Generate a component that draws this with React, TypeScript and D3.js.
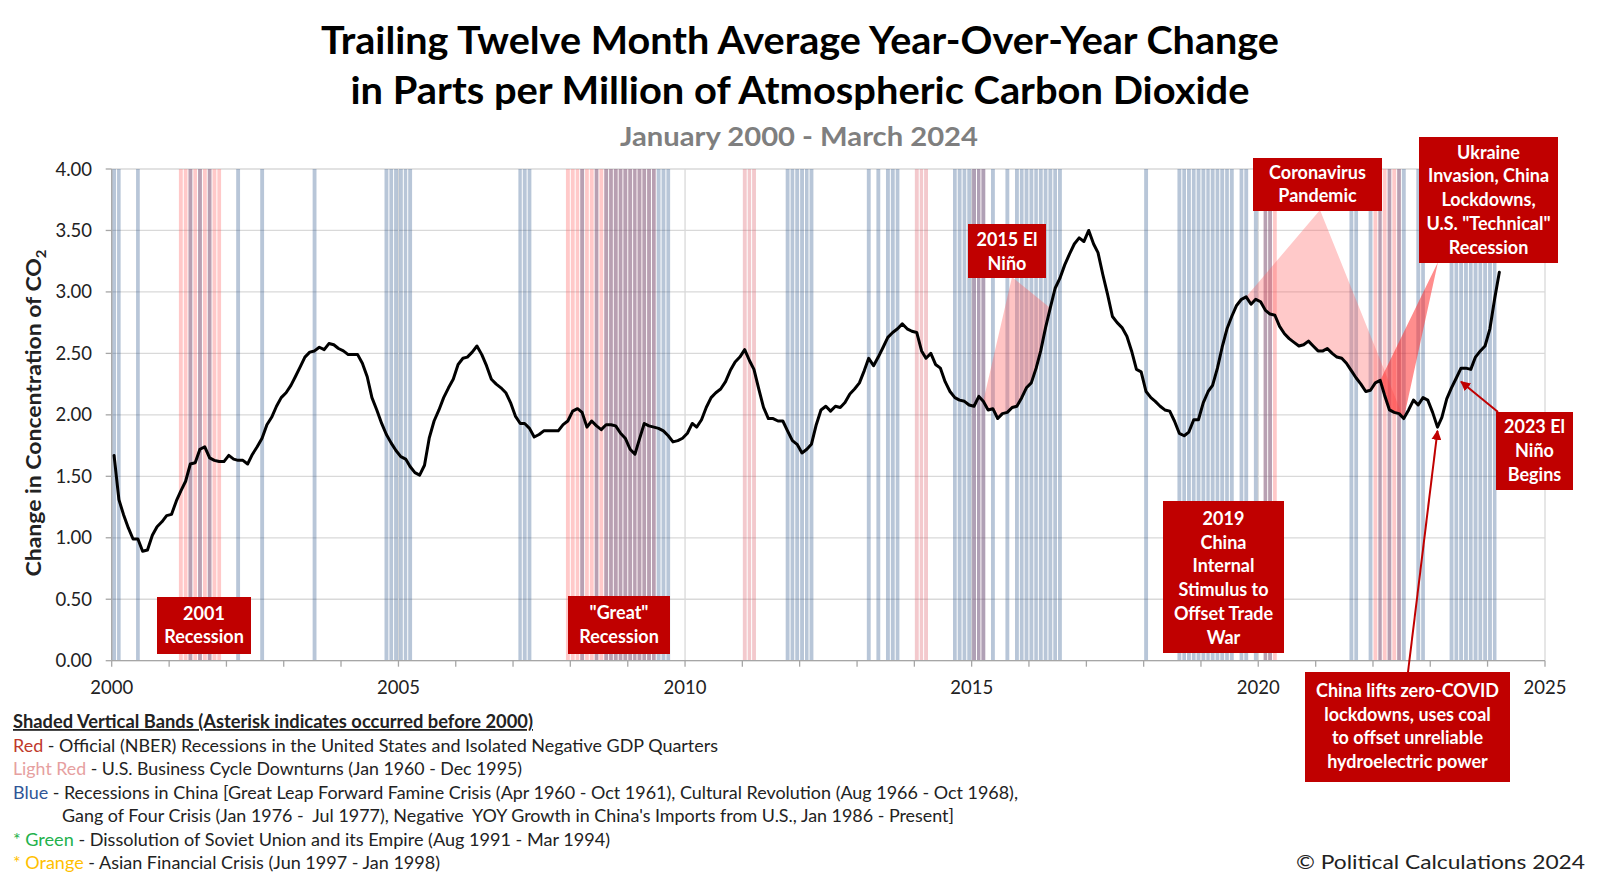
import React from "react";
import * as d3 from "d3";

// Trailing twelve month average YoY change in CO2 ppm, monthly Jan 2000 - Mar 2024
const co2Change: number[] = [
  1.67, 1.31, 1.19, 1.08, 0.99, 0.99, 0.89, 0.9, 1.02, 1.09, 1.13, 1.18, // 2000
  1.19, 1.3, 1.38, 1.46, 1.6, 1.61, 1.72, 1.74, 1.65, 1.63, 1.62, 1.62, // 2001
  1.67, 1.64, 1.63, 1.63, 1.6, 1.68, 1.74, 1.81, 1.92, 1.98, 2.07, 2.14, // 2002
  2.18, 2.24, 2.31, 2.39, 2.47, 2.51, 2.52, 2.55, 2.53, 2.58, 2.57, 2.54, // 2003
  2.52, 2.49, 2.49, 2.49, 2.42, 2.31, 2.14, 2.04, 1.93, 1.84, 1.77, 1.71, // 2004
  1.66, 1.64, 1.58, 1.53, 1.51, 1.59, 1.81, 1.95, 2.04, 2.14, 2.22, 2.29, // 2005
  2.41, 2.46, 2.47, 2.51, 2.56, 2.49, 2.4, 2.29, 2.25, 2.22, 2.18, 2.1, // 2006
  1.99, 1.93, 1.93, 1.89, 1.82, 1.84, 1.87, 1.87, 1.87, 1.87, 1.92, 1.95, // 2007
  2.03, 2.05, 2.02, 1.9, 1.95, 1.91, 1.88, 1.92, 1.92, 1.91, 1.85, 1.81, // 2008
  1.72, 1.68, 1.8, 1.93, 1.91, 1.9, 1.89, 1.87, 1.83, 1.78, 1.79, 1.81, // 2009
  1.85, 1.93, 1.9, 1.96, 2.06, 2.14, 2.18, 2.21, 2.27, 2.36, 2.43, 2.47, // 2010
  2.53, 2.44, 2.37, 2.21, 2.06, 1.97, 1.97, 1.95, 1.95, 1.87, 1.79, 1.76, // 2011
  1.69, 1.72, 1.76, 1.92, 2.04, 2.07, 2.03, 2.07, 2.06, 2.1, 2.17, 2.21, // 2012
  2.26, 2.36, 2.46, 2.4, 2.47, 2.55, 2.63, 2.67, 2.7, 2.74, 2.7, 2.68, // 2013
  2.67, 2.52, 2.46, 2.5, 2.41, 2.38, 2.27, 2.19, 2.14, 2.12, 2.11, 2.08, // 2014
  2.07, 2.15, 2.11, 2.04, 2.05, 1.97, 2.01, 2.02, 2.06, 2.07, 2.14, 2.22, // 2015
  2.26, 2.38, 2.52, 2.71, 2.87, 3.03, 3.11, 3.22, 3.31, 3.39, 3.44, 3.41, // 2016
  3.5, 3.39, 3.32, 3.14, 2.98, 2.8, 2.75, 2.71, 2.64, 2.52, 2.37, 2.35, // 2017
  2.19, 2.14, 2.11, 2.07, 2.04, 2.03, 1.95, 1.85, 1.83, 1.86, 1.96, 1.96, // 2018
  2.1, 2.19, 2.24, 2.38, 2.55, 2.7, 2.8, 2.89, 2.94, 2.96, 2.9, 2.94, // 2019
  2.92, 2.85, 2.82, 2.81, 2.72, 2.66, 2.62, 2.59, 2.56, 2.57, 2.6, 2.56, // 2020
  2.52, 2.52, 2.54, 2.5, 2.47, 2.46, 2.42, 2.36, 2.3, 2.25, 2.19, 2.2, // 2021
  2.26, 2.28, 2.16, 2.04, 2.02, 2.01, 1.97, 2.04, 2.12, 2.08, 2.14, 2.12, // 2022
  2.02, 1.9, 1.98, 2.13, 2.22, 2.3, 2.38, 2.38, 2.37, 2.47, 2.52, 2.56, // 2023
  2.7, 2.95, 3.16, // 2024
];

const yTicks = [0, 0.5, 1, 1.5, 2, 2.5, 3, 3.5, 4];
const xLabelYears = [2000, 2005, 2010, 2015, 2020, 2025];

// Negative YOY growth in China's imports from U.S. (blue)
const chinaBands: [string, string][] = [
  ["2000-01", "2000-02"], ["2000-06", "2000-06"], ["2001-05", "2001-05"], ["2001-07", "2001-07"],
  ["2001-09", "2001-09"], ["2002-03", "2002-03"], ["2002-08", "2002-08"], ["2003-07", "2003-07"],
  ["2004-10", "2005-03"], ["2007-02", "2007-04"], ["2008-03", "2008-03"], ["2008-06", "2008-06"],
  ["2008-08", "2009-09"], ["2011-10", "2012-03"], ["2013-03", "2013-03"], ["2013-05", "2013-05"],
  ["2013-07", "2013-09"], ["2014-09", "2015-03"], ["2015-05", "2015-05"], ["2015-08", "2015-08"],
  ["2015-10", "2016-07"], ["2018-01", "2018-01"], ["2018-08", "2019-07"], ["2019-09", "2019-10"],
  ["2019-12", "2019-12"], ["2020-02", "2020-03"], ["2021-08", "2021-09"], ["2021-12", "2021-12"],
  ["2022-02", "2022-02"], ["2022-04", "2022-04"], ["2022-06", "2022-07"], ["2022-10", "2022-11"],
  ["2023-05", "2024-02"],
];
// Official US recessions / negative GDP (red)
const usRecessionBands: [string, string][] = [
  ["2001-03", "2001-11"], ["2007-12", "2009-06"], ["2020-02", "2020-04"], ["2022-01", "2022-06"],
];
// Isolated negative GDP quarters (lighter red)
const negativeQuarterBands: [string, string][] = [
  ["2011-01", "2011-03"], ["2014-01", "2014-03"], ["2015-01", "2015-03"],
];

const W = 1600;
const H = 883;
const L = 111.7, R = 1545, T = 169, B = 660.7;
const FONT = "Lato, 'Open Sans', sans-serif";
const DARK = "#c00000";

const parseMonth = (s: string) => {
  const [yy, mm] = s.split("-").map(Number);
  return new Date(yy, mm - 1, 1);
};
const expand = (ranges: [string, string][]) =>
  ranges.flatMap(([a, b]) => {
    const out: Date[] = [];
    const e = parseMonth(b);
    for (let d = parseMonth(a); d <= e; d = d3.timeMonth.offset(d, 1)) out.push(d);
    return out;
  });

type BoxProps = { x0: number; y0: number; x1: number; y1: number; lines: string[]; baselines: number[] };
function Box({ x0, y0, x1, y1, lines, baselines }: BoxProps) {
  const cx = (x0 + x1) / 2;
  return (
    <g>
      <rect x={x0} y={y0} width={x1 - x0} height={y1 - y0} fill={DARK} />
      {lines.map((t, i) => (
        <text key={i} x={cx} y={baselines[i]} textAnchor="middle" fill="#fff" fontWeight={700} fontSize={18} fontFamily={FONT}>
          {t}
        </text>
      ))}
    </g>
  );
}

export default function App() {
  const x = d3.scaleTime().domain([new Date(2000, 0, 1), new Date(2025, 0, 1)]).range([L, R]);
  const y = d3.scaleLinear().domain([0, 4]).range([B, T]);
  const mid = (i: number) => new Date(2000, i, 16);

  const linePath = d3
    .line<number>()
    .x((_, i) => x(mid(i)))
    .y((v) => y(v))(co2Change) as string;

  const bandRect = (d: Date, fill: string, opacity: number, key: string) => {
    const x0 = x(d);
    const x1 = x(d3.timeMonth.offset(d, 1));
    return <rect key={key} x={x0 + 0.5} y={T} width={Math.max(0, x1 - x0 - 1)} height={B - T} fill={fill} fillOpacity={opacity} />;
  };

  // wedge polygons: apex at box, base follows the highlighted stretch of the line
  const wedge = (apex: [number, number], i0: number, i1: number) => {
    const pts: [number, number][] = [apex];
    for (let i = i0; i <= i1; i++) pts.push([x(mid(i)), y(co2Change[i])]);
    return pts.map((p) => p.join(",")).join(" ");
  };
  const idx = (s: string) => {
    const d = parseMonth(s);
    return (d.getFullYear() - 2000) * 12 + d.getMonth();
  };

  const yearTicks = d3.range(2000, 2026).map((yr) => new Date(yr, 0, 1));

  const arrow2023Tip: [number, number] = [x(mid(idx("2023-07"))), y(2.27)];
  const arrowChinaTip: [number, number] = [x(mid(idx("2023-02"))), y(1.87)];

  return (
    <svg width={W} height={H} style={{ display: "block", position: "absolute", left: 0, top: 0, background: "#fff" }} fontFamily={FONT}>
      <defs>
        <marker id="arrowHead" viewBox="0 0 10 10" refX="9" refY="5" markerWidth="5" markerHeight="5" orient="auto">
          <path d="M0,0 L10,5 L0,10 z" fill={DARK} />
        </marker>
      </defs>
      <rect x={0} y={0} width={W} height={H} fill="#fff" />

      {/* Titles */}
      <text x={800} y={54} textAnchor="middle" fontSize={38} fontWeight={700} fill="#000" textLength={958} lengthAdjust="spacingAndGlyphs">
        Trailing Twelve Month Average Year-Over-Year Change
      </text>
      <text x={800} y={104} textAnchor="middle" fontSize={38} fontWeight={700} fill="#000" textLength={899} lengthAdjust="spacingAndGlyphs">
        in Parts per Million of Atmospheric Carbon Dioxide
      </text>
      <text x={799} y={146} textAnchor="middle" fontSize={27} fontWeight={700} fill="#7f7f7f" textLength={358} lengthAdjust="spacingAndGlyphs">
        January 2000 - March 2024
      </text>

      {/* Gridlines */}
      {yTicks.map((v) => (
        <line key={"hg" + v} x1={L} x2={R} y1={y(v)} y2={y(v)} stroke="#d9d9d9" strokeWidth={1.3} />
      ))}
      {xLabelYears.map((yr) => (
        <line key={"vg" + yr} x1={x(new Date(yr, 0, 1))} x2={x(new Date(yr, 0, 1))} y1={T} y2={B} stroke="#d9d9d9" strokeWidth={1.3} />
      ))}

      {/* Bands */}
      {expand(usRecessionBands).map((d, i) => bandRect(d, "#ff6464", 0.35, "r" + i))}
      {expand(negativeQuarterBands).map((d, i) => bandRect(d, "#dc5a66", 0.33, "n" + i))}
      {expand(chinaBands).map((d, i) => bandRect(d, "#1a4781", 0.31, "b" + i))}

      {/* Callout wedges */}
      <polygon points={wedge([1012, 277], idx("2015-03"), idx("2016-05"))} fill="#ff6464" fillOpacity={0.38} />
      <polygon points={wedge([1320, 210], idx("2019-10"), idx("2022-07"))} fill="#ff6464" fillOpacity={0.35} />
      <polygon points={wedge([1438, 262], idx("2022-02"), idx("2022-07"))} fill="#ff3030" fillOpacity={0.55} />

      {/* Axes */}
      <line x1={L} x2={L} y1={T} y2={B} stroke="#a6a6a6" strokeWidth={1.3} />
      <line x1={L} x2={R} y1={B} y2={B} stroke="#a6a6a6" strokeWidth={1.3} />
      {yTicks.map((v) => (
        <line key={"yt" + v} x1={L - 6} x2={L} y1={y(v)} y2={y(v)} stroke="#a6a6a6" strokeWidth={1.3} />
      ))}
      {yearTicks.map((d, i) => (
        <line key={"xt" + i} x1={x(d)} x2={x(d)} y1={B} y2={B + 6} stroke="#a6a6a6" strokeWidth={1.3} />
      ))}
      {yTicks.map((v) => (
        <text key={"yl" + v} x={92} y={y(v) + 6.5} textAnchor="end" fontSize={18.5} fill="#222">
          {v.toFixed(2)}
        </text>
      ))}
      {xLabelYears.map((yr) => (
        <text key={"xl" + yr} x={x(new Date(yr, 0, 1))} y={694} textAnchor="middle" fontSize={18.5} fill="#222">
          {yr}
        </text>
      ))}
      <text transform="translate(41,413) rotate(-90)" textAnchor="middle" fontSize={20} fontWeight={700} fill="#222" textLength={327} lengthAdjust="spacingAndGlyphs">
        Change in Concentration of CO<tspan fontSize={13} dy={5}>2</tspan>
      </text>

      {/* Data line */}
      <path d={linePath} fill="none" stroke="#000" strokeWidth={3} strokeLinejoin="round" strokeLinecap="round" />

      {/* Annotation boxes */}
      <Box x0={157} y0={597} x1={251} y1={654} lines={["2001", "Recession"]} baselines={[620, 643]} />
      <Box x0={568} y0={596} x1={670} y1={654} lines={['"Great"', "Recession"]} baselines={[619, 643]} />
      <Box x0={968} y0={224} x1={1046} y1={278} lines={["2015 El", "Niño"]} baselines={[246, 269.5]} />
      <Box
        x0={1163} y0={501} x1={1284} y1={653}
        lines={["2019", "China", "Internal", "Stimulus to", "Offset Trade", "War"]}
        baselines={[524.5, 548.5, 572, 596, 620, 644]}
      />
      <Box x0={1253} y0={158} x1={1382} y1={211} lines={["Coronavirus", "Pandemic"]} baselines={[179, 201.5]} />
      <Box
        x0={1419} y0={137} x1={1558} y1={263}
        lines={["Ukraine", "Invasion, China", "Lockdowns,", 'U.S. "Technical"', "Recession"]}
        baselines={[158.5, 182, 206, 230, 254]}
      />
      <Box x0={1496} y0={412} x1={1573} y1={490} lines={["2023 El", "Niño", "Begins"]} baselines={[432.5, 456.5, 481]} />
      <Box
        x0={1305} y0={672} x1={1510} y1={782}
        lines={["China lifts zero-COVID", "lockdowns, uses coal", "to offset unreliable", "hydroelectric power"]}
        baselines={[697, 720.5, 744, 768]}
      />

      {/* Arrows */}
      <line x1={1498} y1={412} x2={arrow2023Tip[0]} y2={arrow2023Tip[1]} stroke={DARK} strokeWidth={2} markerEnd="url(#arrowHead)" />
      <line x1={1408} y1={672} x2={arrowChinaTip[0]} y2={arrowChinaTip[1]} stroke={DARK} strokeWidth={2} markerEnd="url(#arrowHead)" />

      {/* Legend */}
      <text x={13} y={728} fontSize={18} fontWeight={700} fill="#222" textDecoration="underline" textLength={520} lengthAdjust="spacingAndGlyphs">
        Shaded Vertical Bands (Asterisk indicates occurred before 2000)
      </text>
      <text x={13} y={751.5} fontSize={18} fill="#222" textLength={705} lengthAdjust="spacingAndGlyphs">
        <tspan fill="#c0392b">Red</tspan> - Official (NBER) Recessions in the United States and Isolated Negative GDP Quarters
      </text>
      <text x={13} y={775} fontSize={18} fill="#222" textLength={509} lengthAdjust="spacingAndGlyphs">
        <tspan fill="#e6a0a0">Light Red</tspan> - U.S. Business Cycle Downturns (Jan 1960 - Dec 1995)
      </text>
      <text x={13} y={798.5} fontSize={18} fill="#222" textLength={1005} lengthAdjust="spacingAndGlyphs">
        <tspan fill="#2f5597">Blue</tspan> - Recessions in China [Great Leap Forward Famine Crisis (Apr 1960 - Oct 1961), Cultural Revolution (Aug 1966 - Oct 1968),
      </text>
      <text x={62} y={822} fontSize={18} fill="#222" textLength={892} lengthAdjust="spacingAndGlyphs" style={{ whiteSpace: "pre" }}>
        {"Gang of Four Crisis (Jan 1976 -  Jul 1977), Negative  YOY Growth in China's Imports from U.S., Jan 1986 - Present]"}
      </text>
      <text x={13} y={845.5} fontSize={18} fill="#222" textLength={597} lengthAdjust="spacingAndGlyphs">
        <tspan fill="#22b14c">* Green</tspan> - Dissolution of Soviet Union and its Empire (Aug 1991 - Mar 1994)
      </text>
      <text x={13} y={869} fontSize={18} fill="#222" textLength={427} lengthAdjust="spacingAndGlyphs">
        <tspan fill="#ffc000">* Orange</tspan> - Asian Financial Crisis (Jun 1997 - Jan 1998)
      </text>
      <text x={1585} y={869} textAnchor="end" fontSize={20} fill="#222" textLength={289} lengthAdjust="spacingAndGlyphs">
        © Political Calculations 2024
      </text>
    </svg>
  );
}
